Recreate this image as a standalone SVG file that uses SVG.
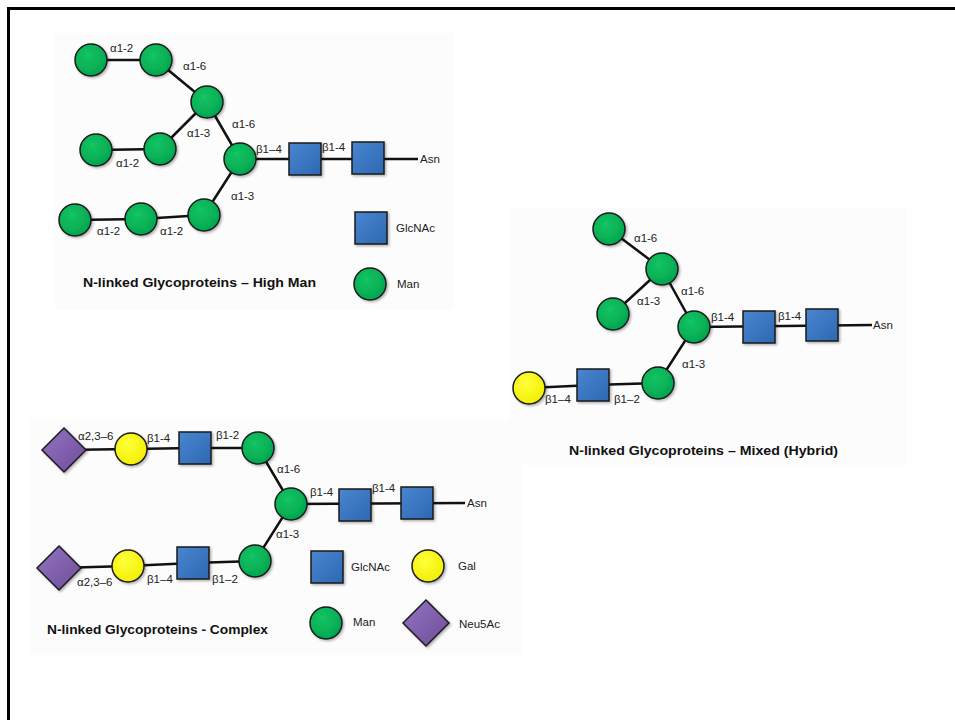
<svg xmlns="http://www.w3.org/2000/svg" width="955" height="720" viewBox="0 0 955 720">
<defs>
<radialGradient id="gMan" cx="0.4" cy="0.35" r="0.7"><stop offset="0" stop-color="#14c463"/><stop offset="1" stop-color="#00a54e"/></radialGradient>
<radialGradient id="gGal" cx="0.4" cy="0.35" r="0.7"><stop offset="0" stop-color="#ffff3a"/><stop offset="1" stop-color="#f2ee00"/></radialGradient>
<linearGradient id="gGlc" x1="0" y1="0" x2="1" y2="1"><stop offset="0" stop-color="#4a86d0"/><stop offset="1" stop-color="#2d67b2"/></linearGradient>
<linearGradient id="gNeu" x1="0" y1="0" x2="1" y2="1"><stop offset="0" stop-color="#9575c4"/><stop offset="1" stop-color="#6c4c98"/></linearGradient>
<filter id="sh" x="-30%" y="-30%" width="160%" height="160%"><feDropShadow dx="1.5" dy="1.5" stdDeviation="1.2" flood-color="#000" flood-opacity="0.3"/></filter>
</defs>
<style>
.man{fill:url(#gMan);stroke:#1a1a1a;stroke-width:1.5;filter:url(#sh)}
.gal{fill:url(#gGal);stroke:#1a1a1a;stroke-width:1.5;filter:url(#sh)}
.glc{fill:url(#gGlc);stroke:#1a1a1a;stroke-width:1.5;filter:url(#sh)}
.neu{fill:url(#gNeu);stroke:#1a1a1a;stroke-width:1.5;filter:url(#sh)}
.e{stroke:#111;stroke-width:2.5;fill:none}
.l{font-family:"Liberation Sans",Arial,sans-serif;font-size:11.5px;fill:#222}
.t{font-family:"Liberation Sans",Arial,sans-serif;font-size:13px;font-weight:bold;fill:#111}
.panel{fill:#fcfcfc}
</style>
<rect width="955" height="720" fill="#fff"/>
<path d="M8.5,720 V8.5 H955" fill="none" stroke="#000" stroke-width="3"/>
<rect class="panel" x="55" y="33" width="398" height="277"/>
<rect class="panel" x="510" y="208" width="397" height="257"/>
<rect class="panel" x="30" y="420" width="492" height="235"/>

<!-- ===== High Mannose ===== -->
<g id="highman-edges">
<path class="e" d="M91,60 L156,60 M156,60 L207,102 M207,102 L160,149 M207,102 L240,159 M96,150 L160,149 M240,159 L204,215 M75,220 L141,219 L204,215 M240,159 L418,159"/>
</g>
<g id="hm-man1"><circle class="man" cx="91" cy="60" r="16"/></g>
<g id="hm-man2"><circle class="man" cx="156" cy="60" r="16"/></g>
<g id="hm-man3"><circle class="man" cx="207" cy="102" r="16"/></g>
<g id="hm-man4"><circle class="man" cx="96" cy="150" r="16"/></g>
<g id="hm-man5"><circle class="man" cx="160" cy="149" r="16"/></g>
<g id="hm-man6"><circle class="man" cx="240" cy="159" r="16"/></g>
<g id="hm-man7"><circle class="man" cx="75" cy="220" r="16"/></g>
<g id="hm-man8"><circle class="man" cx="141" cy="219" r="16"/></g>
<g id="hm-man9"><circle class="man" cx="204" cy="215" r="16"/></g>
<g id="hm-glc1"><rect class="glc" x="289" y="143" width="32" height="32"/></g>
<g id="hm-glc2"><rect class="glc" x="352" y="142" width="32" height="32"/></g>
<g id="hm-labels">
<text class="l" x="110" y="52">α1-2</text>
<text class="l" x="183" y="70">α1-6</text>
<text class="l" x="187" y="137">α1-3</text>
<text class="l" x="232" y="128">α1-6</text>
<text class="l" x="116" y="167">α1-2</text>
<text class="l" x="256" y="153">β1–4</text>
<text class="l" x="322" y="151">β1-4</text>
<text class="l" x="231" y="200">α1-3</text>
<text class="l" x="97" y="235">α1-2</text>
<text class="l" x="160" y="235">α1-2</text>
<text class="l" x="420" y="163">Asn</text>
</g>
<g id="hm-legend-glc"><rect class="glc" x="355" y="212" width="32" height="32"/><text class="l" x="396" y="232">GlcNAc</text></g>
<g id="hm-legend-man"><circle class="man" cx="370" cy="284" r="16"/><text class="l" x="397" y="288">Man</text></g>
<text class="t" x="83" y="287" textLength="233" lengthAdjust="spacingAndGlyphs">N-linked Glycoproteins – High Man</text>

<!-- ===== Hybrid ===== -->
<g id="hybrid-edges">
<path class="e" d="M609,229 L662,269 L613,314 M662,269 L694,327 L658,383 L593,385 L529,388 M694,327 L872,325"/>
</g>
<g id="hy-man1"><circle class="man" cx="609" cy="229" r="16"/></g>
<g id="hy-man2"><circle class="man" cx="662" cy="269" r="16"/></g>
<g id="hy-man3"><circle class="man" cx="613" cy="314" r="16"/></g>
<g id="hy-man4"><circle class="man" cx="694" cy="327" r="16"/></g>
<g id="hy-man5"><circle class="man" cx="658" cy="383" r="16"/></g>
<g id="hy-glc1"><rect class="glc" x="743" y="311" width="32" height="32"/></g>
<g id="hy-glc2"><rect class="glc" x="806" y="309" width="32" height="32"/></g>
<g id="hy-glc3"><rect class="glc" x="577" y="369" width="32" height="32"/></g>
<g id="hy-gal1"><circle class="gal" cx="529" cy="388" r="16"/></g>
<g id="hy-labels">
<text class="l" x="634" y="242">α1-6</text>
<text class="l" x="681" y="295">α1-6</text>
<text class="l" x="637" y="305">α1-3</text>
<text class="l" x="711" y="321">β1-4</text>
<text class="l" x="778" y="320">β1-4</text>
<text class="l" x="682" y="368">α1-3</text>
<text class="l" x="545" y="403">β1–4</text>
<text class="l" x="614" y="403">β1–2</text>
<text class="l" x="873" y="329">Asn</text>
</g>
<text class="t" x="569" y="455" textLength="269" lengthAdjust="spacingAndGlyphs">N-linked Glycoproteins – Mixed (Hybrid)</text>

<!-- ===== Complex ===== -->
<g id="complex-edges">
<path class="e" d="M64,450 L131,449 L195,448 L258,448 L291,504 L255,561 L193,563 L128,566 L59,568 M291,504 L465,503"/>
</g>
<g id="cx-neu1"><polygon class="neu" points="64,428 86,450 64,472 42,450"/></g>
<g id="cx-gal1"><circle class="gal" cx="131" cy="449" r="16"/></g>
<g id="cx-glc1"><rect class="glc" x="179" y="432" width="32" height="32"/></g>
<g id="cx-man1"><circle class="man" cx="258" cy="448" r="16"/></g>
<g id="cx-man2"><circle class="man" cx="291" cy="504" r="16"/></g>
<g id="cx-glc2"><rect class="glc" x="339" y="489" width="32" height="32"/></g>
<g id="cx-glc3"><rect class="glc" x="401" y="487" width="32" height="32"/></g>
<g id="cx-man3"><circle class="man" cx="255" cy="561" r="16"/></g>
<g id="cx-glc4"><rect class="glc" x="177" y="547" width="32" height="32"/></g>
<g id="cx-gal2"><circle class="gal" cx="128" cy="566" r="16"/></g>
<g id="cx-neu2"><polygon class="neu" points="59,546 81,568 59,590 37,568"/></g>
<g id="cx-labels">
<text class="l" x="78" y="440">α2,3–6</text>
<text class="l" x="147" y="442">β1-4</text>
<text class="l" x="216" y="439">β1-2</text>
<text class="l" x="277" y="473">α1-6</text>
<text class="l" x="310" y="496">β1-4</text>
<text class="l" x="372" y="492">β1-4</text>
<text class="l" x="276" y="538">α1-3</text>
<text class="l" x="77" y="586">α2,3–6</text>
<text class="l" x="147" y="583">β1–4</text>
<text class="l" x="212" y="583">β1–2</text>
<text class="l" x="467" y="507">Asn</text>
</g>
<g id="cx-legend-glc"><rect class="glc" x="311" y="551" width="32" height="32"/><text class="l" x="351" y="571">GlcNAc</text></g>
<g id="cx-legend-gal"><circle class="gal" cx="428" cy="566" r="16"/><text class="l" x="458" y="570">Gal</text></g>
<g id="cx-legend-man"><circle class="man" cx="326" cy="623" r="16"/><text class="l" x="353" y="626">Man</text></g>
<g id="cx-legend-neu"><polygon class="neu" points="426,600 449,623 426,646 403,623"/><text class="l" x="459" y="628">Neu5Ac</text></g>
<text class="t" x="47" y="634" textLength="221" lengthAdjust="spacingAndGlyphs">N-linked Glycoproteins - Complex</text>
</svg>
